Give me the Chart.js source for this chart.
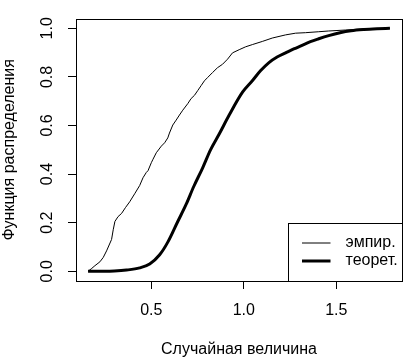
<!DOCTYPE html>
<html>
<head>
<meta charset="utf-8">
<script src="https://cdn.jsdelivr.net/npm/chart.js@4/dist/chart.umd.min.js"></script>
<style>
  html, body { margin: 0; padding: 0; background: #fff; }
  #wrap { width: 416px; height: 361px; }
</style>
</head>
<body>
<div id="wrap"><canvas id="c" width="416" height="361"></canvas></div>
<script>
// ---- data ----
const seriesLabels = ["эмпир.", "теорет."];
const empX = [0.158,0.175,0.195,0.222,0.240,0.258,0.285,0.294,0.303,0.320,0.339,0.360,0.383,0.410,0.437,0.455,0.473,0.482,0.500,0.509,0.527,0.554,0.572,0.589,0.598,0.616,0.634,0.652,0.670,0.697,0.715,0.733,0.751,0.769,0.787,0.805,0.831,0.858,0.885,0.912,0.939,0.975,1.010,1.046,1.100,1.154,1.226,1.280,1.333,1.405,1.459,1.550,1.650,1.790];
const empY = [0.000,0.010,0.023,0.039,0.057,0.084,0.131,0.171,0.205,0.225,0.238,0.262,0.286,0.319,0.353,0.385,0.407,0.414,0.447,0.461,0.488,0.515,0.529,0.549,0.569,0.602,0.622,0.643,0.663,0.690,0.711,0.724,0.744,0.764,0.784,0.798,0.818,0.838,0.852,0.873,0.899,0.912,0.924,0.933,0.946,0.960,0.973,0.980,0.982,0.986,0.989,0.993,0.997,1.000];
const theoX = [0.158,0.250,0.300,0.366,0.437,0.491,0.545,0.589,0.643,0.688,0.730,0.777,0.820,0.867,0.921,0.993,1.046,1.090,1.136,1.180,1.226,1.270,1.315,1.360,1.405,1.459,1.520,1.580,1.650,1.720,1.790];
const theoY = [0.000,0.000,0.001,0.005,0.014,0.030,0.068,0.120,0.205,0.275,0.350,0.425,0.500,0.565,0.643,0.737,0.784,0.825,0.859,0.882,0.899,0.915,0.930,0.945,0.957,0.970,0.982,0.990,0.995,0.998,1.000];
const xTicks = [0.5, 1.0, 1.5];
const yTicks = [0.0, 0.2, 0.4, 0.6, 0.8, 1.0];
const xTitle = "Случайная величина";
const yTitle = "Функция распределения";

const FONT = "'Liberation Sans', Arial, sans-serif";

const toPts = (xs, ys) => xs.map((x, i) => ({ x: x, y: ys[i] }));

// data range with R-style 4% extension
const allX = empX.concat(theoX);
const xr = [Math.min(...allX), Math.max(...allX)];
const xPad = (xr[1] - xr[0]) * 0.04;
const yr = [0, 1];
const yPad = (yr[1] - yr[0]) * 0.04;

const boxPlugin = {
  id: 'rbox',
  afterDatasetsDraw(chart) {
    const { ctx, chartArea: a } = chart;
    ctx.save();
    ctx.strokeStyle = '#000';
    ctx.lineWidth = 1;
    ctx.strokeRect(Math.round(a.left) + 0.5, Math.round(a.top) + 0.5,
                   Math.round(a.right - a.left), Math.round(a.bottom - a.top));
    // legend in bottom-right corner, built from the datasets
    const ds = chart.data.datasets;
    ctx.font = '16px ' + FONT;
    const textW = Math.max(...ds.map(d => ctx.measureText(d.label).width));
    const right = Math.round(a.right) + 0.5, bottom = Math.round(a.bottom) + 0.5;
    const w = 57 + textW + 5.5, h = 58;
    const left = Math.round(right - w) + 0.5, top = bottom - h;
    ctx.fillStyle = '#fff';
    ctx.fillRect(left, top, w, h);
    ctx.strokeRect(left, top, right - left, h);
    ds.forEach((d, i) => {
      const yy = top + 19.5 + i * 18;
      ctx.beginPath();
      ctx.lineWidth = d.borderWidth;
      ctx.strokeStyle = d.borderColor;
      ctx.moveTo(left + 13.5, yy);
      ctx.lineTo(left + 42, yy);
      ctx.stroke();
      ctx.fillStyle = '#000';
      ctx.textBaseline = 'middle';
      ctx.textAlign = 'left';
      ctx.fillText(d.label, left + 57, yy);
    });
    ctx.restore();
  }
};

const bgPlugin = {
  id: 'bg',
  beforeDraw(chart) {
    const ctx = chart.ctx;
    ctx.save();
    ctx.fillStyle = '#fff';
    ctx.fillRect(0, 0, chart.width, chart.height);
    ctx.restore();
  }
};

new Chart(document.getElementById('c'), {
  type: 'scatter',
  data: {
    datasets: [
      { label: seriesLabels[0], data: toPts(empX, empY), showLine: true, borderColor: '#000',
        borderWidth: 1, pointRadius: 0, tension: 0, fill: false },
      { label: seriesLabels[1], data: toPts(theoX, theoY), showLine: true, borderColor: '#000',
        borderWidth: 3, pointRadius: 0, cubicInterpolationMode: 'monotone', fill: false }
    ]
  },
  options: {
    responsive: false,
    animation: false,
    devicePixelRatio: 1,
    layout: { padding: { left: 0, top: 13, right: 14, bottom: 0 } },
    plugins: { legend: { display: false }, tooltip: { enabled: false } },
    scales: {
      x: {
        type: 'linear',
        min: xr[0] - xPad,
        max: xr[1] + xPad,
        afterBuildTicks: s => { s.ticks = xTicks.map(v => ({ value: v })); },
        afterFit: s => { s.height = 80; },
        border: { display: false },
        grid: { display: true, drawOnChartArea: false, drawTicks: true, tickLength: 8, tickColor: '#000', tickWidth: 1 },
        ticks: { color: '#000', font: { family: FONT, size: 16 }, padding: 12, maxRotation: 0, autoSkip: false,
                 callback: v => Number(v).toFixed(1) },
        title: { display: true, text: xTitle, color: '#000', font: { family: FONT, size: 16 }, padding: { top: 0, bottom: 2 } }
      },
      y: {
        type: 'linear',
        min: yr[0] - yPad,
        max: yr[1] + yPad,
        afterBuildTicks: s => { s.ticks = yTicks.map(v => ({ value: v })); },
        afterFit: s => { s.width = 76; },
        border: { display: false },
        grid: { display: true, drawOnChartArea: false, drawTicks: true, tickLength: 8, tickColor: '#000', tickWidth: 1 },
        ticks: { color: '#000', font: { family: FONT, size: 16 }, padding: 9, minRotation: 90, maxRotation: 90,
                 crossAlign: 'center', autoSkip: false, callback: v => Number(v).toFixed(1) },
        title: { display: true, text: yTitle, color: '#000', font: { family: FONT, size: 16 }, padding: { top: 0, bottom: 0 } }
      }
    }
  },
  plugins: [bgPlugin, boxPlugin]
});
</script>
</body>
</html>
